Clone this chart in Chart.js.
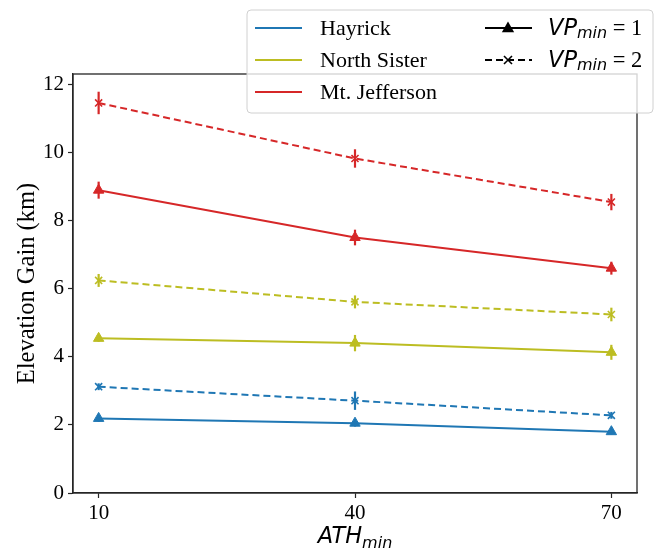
<!DOCTYPE html>
<html>
<head>
<meta charset="utf-8">
<script src="https://cdn.jsdelivr.net/npm/chart.js@4/dist/chart.umd.min.js"></script>
<style>
html,body{margin:0;padding:0;background:#fff;}
#wrap{position:relative;width:658px;height:550px;}
canvas{display:block;}
</style>
</head>
<body>
<div id="wrap"><canvas id="c" width="658" height="550"></canvas></div>
<script>
// ---- data ----
const athMin = [10, 40, 70];
const xTicks = [10, 40, 70];
const yTicks = [0, 2, 4, 6, 8, 10, 12];

const hayrickVP1 = [2.19, 2.05, 1.80];
const hayrickVP1Err = [0.10, 0.10, 0.08];
const hayrickVP2 = [3.12, 2.71, 2.28];
const hayrickVP2Err = [0.10, 0.27, 0.10];

const northSisterVP1 = [4.54, 4.40, 4.13];
const northSisterVP1Err = [0.10, 0.24, 0.22];
const northSisterVP2 = [6.24, 5.61, 5.24];
const northSisterVP2Err = [0.19, 0.19, 0.20];

const jeffersonVP1 = [8.89, 7.50, 6.60];
const jeffersonVP1Err = [0.25, 0.23, 0.19];
const jeffersonVP2 = [11.45, 9.82, 8.54];
const jeffersonVP2Err = [0.33, 0.27, 0.24];

const peakNames = ["Hayrick", "North Sister", "Mt. Jefferson"];
const peakColors = ["#1f77b4", "#bcbd22", "#d62728"];

const SERIF = "'Liberation Serif', 'Times New Roman', serif";
const MATH = "'DejaVu Sans', sans-serif";

function pts(vals){ return athMin.map((x,i)=>({x:x, y:vals[i]})); }

function ds(vals, err, color, vp){
  return {
    data: pts(vals),
    errors: err,
    borderColor: color,
    backgroundColor: color,
    borderWidth: 2,
    borderDash: vp === 2 ? [7,4] : [],
    pointStyle: vp === 2 ? 'crossRot' : 'triangle',
    pointRadius: vp === 2 ? 5 : 6,
    pointBorderWidth: vp === 2 ? 1.6 : 1,
    pointBackgroundColor: color,
    pointBorderColor: color,
    pointHoverRadius: 5,
    tension: 0,
    fill: false
  };
}

const datasets = [
  ds(hayrickVP1, hayrickVP1Err, peakColors[0], 1),
  ds(hayrickVP2, hayrickVP2Err, peakColors[0], 2),
  ds(northSisterVP1, northSisterVP1Err, peakColors[1], 1),
  ds(northSisterVP2, northSisterVP2Err, peakColors[1], 2),
  ds(jeffersonVP1, jeffersonVP1Err, peakColors[2], 1),
  ds(jeffersonVP2, jeffersonVP2Err, peakColors[2], 2)
];

const errorBars = {
  id: 'errorBars',
  beforeDatasetsDraw(chart){
    const ctx = chart.ctx, xs = chart.scales.x, ys = chart.scales.y;
    ctx.save();
    chart.data.datasets.forEach(d=>{
      ctx.strokeStyle = d.borderColor;
      ctx.lineWidth = 2.2;
      ctx.setLineDash([]);
      d.data.forEach((p,i)=>{
        const e = d.errors[i];
        const px = xs.getPixelForValue(p.x);
        ctx.beginPath();
        ctx.moveTo(px, ys.getPixelForValue(p.y - e));
        ctx.lineTo(px, ys.getPixelForValue(p.y + e));
        ctx.stroke();
      });
    });
    ctx.restore();
  }
};

function drawSub(ctx, x, y, main, sub, rest, size){
  ctx.font = "italic " + size + "px " + MATH;
  ctx.fillText(main, x, y);
  x += ctx.measureText(main).width;
  const ss = Math.round(size*0.7);
  ctx.font = "italic " + ss + "px " + MATH;
  ctx.fillText(sub, x, y + size*0.22);
  x += ctx.measureText(sub).width;
  if (rest){
    ctx.font = size + "px " + SERIF;
    ctx.fillText(rest, x, y);
    x += ctx.measureText(rest).width;
  }
  return x;
}

const frameAndText = {
  id: 'frameAndText',
  afterDraw(chart){
    const ctx = chart.ctx, a = chart.chartArea;
    ctx.save();
    // frame
    ctx.strokeStyle = '#262626';
    ctx.lineWidth = 1.3;
    ctx.strokeRect(a.left, a.top, a.right - a.left, a.bottom - a.top);
    ctx.fillStyle = '#000';
    ctx.textBaseline = 'alphabetic';
    // y title
    ctx.save();
    ctx.translate(34, (a.top + a.bottom)/2);
    ctx.rotate(-Math.PI/2);
    ctx.font = "24.5px " + SERIF;
    ctx.textAlign = 'center';
    ctx.fillText("Elevation Gain (km)", 0, 0);
    ctx.restore();
    // x title
    ctx.textAlign = 'left';
    const fs = 22.5;
    ctx.font = "italic " + fs + "px " + MATH;
    const w1 = ctx.measureText("ATH").width;
    ctx.font = "italic " + Math.round(fs*0.7) + "px " + MATH;
    const w2 = ctx.measureText("min").width;
    const cx = (a.left + a.right)/2;
    drawSub(ctx, cx - (w1+w2)/2, 543, "ATH", "min", null, fs);

    // legend
    const lx = 247, ly = 10, lw = 406, lh = 103, r = 4;
    ctx.beginPath();
    ctx.moveTo(lx+r, ly);
    ctx.arcTo(lx+lw, ly, lx+lw, ly+lh, r);
    ctx.arcTo(lx+lw, ly+lh, lx, ly+lh, r);
    ctx.arcTo(lx, ly+lh, lx, ly, r);
    ctx.arcTo(lx, ly, lx+lw, ly, r);
    ctx.closePath();
    ctx.fillStyle = 'rgba(255,255,255,0.8)';
    ctx.fill();
    ctx.strokeStyle = '#d0d0d0';
    ctx.lineWidth = 1;
    ctx.stroke();

    const rows = [28, 60, 92];
    ctx.textBaseline = 'middle';
    peakNames.forEach((n,i)=>{
      ctx.strokeStyle = peakColors[i];
      ctx.lineWidth = 2;
      ctx.beginPath();
      ctx.moveTo(255, rows[i]); ctx.lineTo(302, rows[i]); ctx.stroke();
      ctx.fillStyle = '#000';
      ctx.font = "22px " + SERIF;
      ctx.fillText(n, 320, rows[i] + 1);
    });
    // VP entries
    ctx.strokeStyle = '#000';
    ctx.fillStyle = '#000';
    ctx.lineWidth = 2;
    ctx.beginPath(); ctx.moveTo(485, rows[0]); ctx.lineTo(532, rows[0]); ctx.stroke();
    const tcx = 508, tcy = rows[0], tr = 6.5;
    ctx.beginPath();
    ctx.moveTo(tcx, tcy - tr);
    ctx.lineTo(tcx + tr*0.95, tcy + tr*0.65);
    ctx.lineTo(tcx - tr*0.95, tcy + tr*0.65);
    ctx.closePath(); ctx.fill();
    ctx.setLineDash([7,4]);
    ctx.beginPath(); ctx.moveTo(485, rows[1]); ctx.lineTo(532, rows[1]); ctx.stroke();
    ctx.setLineDash([]);
    ctx.lineWidth = 1.6;
    const xr = 4;
    ctx.beginPath();
    ctx.moveTo(508-xr, rows[1]-xr); ctx.lineTo(508+xr, rows[1]+xr);
    ctx.moveTo(508+xr, rows[1]-xr); ctx.lineTo(508-xr, rows[1]+xr);
    ctx.stroke();
    drawSub(ctx, 548, rows[0] + 1, "VP", "min", " = 1", 22.5);
    drawSub(ctx, 548, rows[1] + 1, "VP", "min", " = 2", 22.5);
    ctx.restore();
  }
};

new Chart(document.getElementById('c'), {
  type: 'line',
  data: { datasets: datasets },
  plugins: [errorBars, frameAndText],
  options: {
    responsive: false,
    devicePixelRatio: 1,
    animation: false,
    layout: { padding: { top: 74, right: 21, left: 0, bottom: 0 } },
    plugins: { legend: { display: false }, tooltip: { enabled: false } },
    scales: {
      x: {
        type: 'linear',
        min: 7, max: 73,
        afterBuildTicks(s){ s.ticks = xTicks.map(v=>({value:v})); },
        afterFit(s){ s.height = 57; },
        grid: { drawOnChartArea: false, drawTicks: true, tickLength: 5, tickColor: '#262626', tickWidth: 1.2 },
        border: { color: '#262626', width: 1.3 },
        ticks: { color: '#000', font: { family: SERIF, size: 21 }, padding: 3, maxRotation: 0 }
      },
      y: {
        type: 'linear',
        min: 0, max: 12.3,
        afterBuildTicks(s){ s.ticks = yTicks.map(v=>({value:v})); },
        afterFit(s){ s.width = 73; },
        grid: { drawOnChartArea: false, drawTicks: true, tickLength: 5, tickColor: '#262626', tickWidth: 1.2 },
        border: { color: '#262626', width: 1.3 },
        ticks: { color: '#000', font: { family: SERIF, size: 21 }, padding: 4 }
      }
    }
  }
});
</script>
</body>
</html>
